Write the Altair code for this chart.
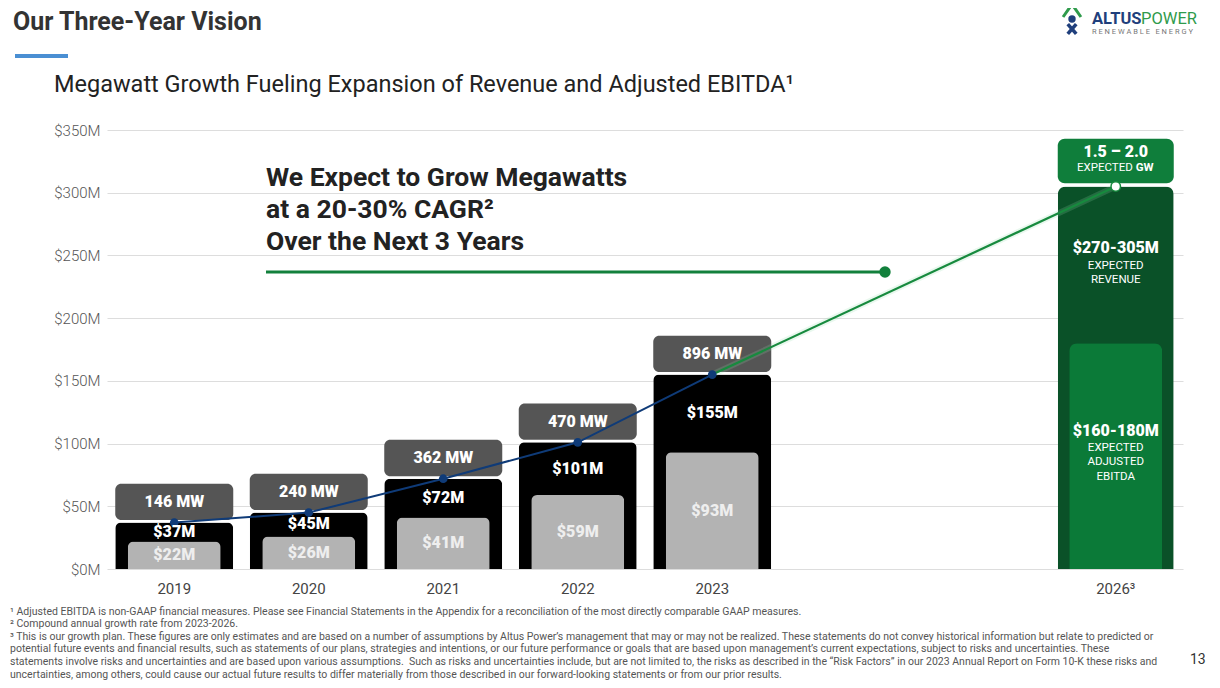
import altair as alt
import pandas as pd

# ---------------- data ----------------
years = ["2019", "2020", "2021", "2022", "2023", "2024", "2025", "2026"]
hist_years = ["2019", "2020", "2021", "2022", "2023"]
revenue = [37, 45, 72, 101, 155]          # $M
adj_ebitda = [22, 26, 41, 59, 93]         # $M
megawatts = [146, 240, 362, 470, 896]     # MW

target_year = "2026"
rev_low, rev_high = 270, 305
ebitda_low, ebitda_high = 160, 180
gw_low, gw_high = 1.5, 2.0

y_ticks = [0, 50, 100, 150, 200, 250, 300, 350]

footnotes = [
    "\u00b9 Adjusted EBITDA is non-GAAP financial measures. Please see Financial Statements in the Appendix for a reconciliation of the most directly comparable GAAP measures.",
    "\u00b2 Compound annual growth rate from 2023-2026.",
    "\u00b3 This is our growth plan. These figures are only estimates and are based on a number of assumptions by Altus Power\u2019s management that may or may not be realized. These statements do not convey historical information but relate to predicted or",
    "potential future events and financial results, such as statements of our plans, strategies and intentions, or our future performance or goals that are based upon management\u2019s current expectations, subject to risks and uncertainties. These",
    "statements involve risks and uncertainties and are based upon various assumptions.\u00a0 Such as risks and uncertainties include, but are not limited to, the risks as described in the \u201cRisk Factors\u201d in our 2023 Annual Report on Form 10-K these risks and",
    "uncertainties, among others, could cause our actual future results to differ materially from those described in our forward-looking statements or from our prior results.",
]

# ---------------- tables ----------------
hist = pd.DataFrame({"year": hist_years, "rev": revenue, "ebitda": adj_ebitda, "mw": megawatts})
hist["rev_label"] = ["$%dM" % v for v in revenue]
hist["ebitda_label"] = ["$%dM" % v for v in adj_ebitda]
hist["mw_label"] = ["%d MW" % v for v in megawatts]
hist["rev_label_y"] = (hist["rev"] + hist["ebitda"]) / 2
hist["ebitda_label_y"] = hist["ebitda"] / 2
hist["box_lo"] = hist["rev"] + 2
hist["box_hi"] = hist["rev"] + 31
hist["box_mid"] = hist["rev"] + 16.5

fut = pd.DataFrame({"year": [target_year], "rev": [rev_high], "ebitda": [ebitda_high],
                    "box_lo": [rev_high + 2.5], "box_hi": [rev_high + 38]})

green_line = pd.DataFrame({"year": [hist_years[-1], target_year], "rev": [revenue[-1], rev_high]})

FONT = "Roboto"
W, H = 1076, 439

XAXIS = alt.Axis(title=None,
                 labelExpr="datum.value == '2024' || datum.value == '2025' ? '' : (datum.value == '2026' ? '2026\u00b3' : datum.value)",
                 labelAngle=0, ticks=False, domain=False, grid=False, labelPadding=12,
                 labelFontSize=15, labelColor="#444444", labelFont=FONT)
XS = alt.Scale(domain=years, paddingInner=0.12, paddingOuter=0.06)
YAXIS = alt.Axis(title=None, values=y_ticks, labelExpr="'$' + datum.value + 'M'", grid=True,
                 gridColor="#dddddd", gridWidth=1, ticks=False, domain=False, labelPadding=7,
                 labelFontSize=15, labelFontWeight=300, labelColor="#555555", labelFont=FONT)
YS = alt.Scale(domain=[0, 350], nice=False)

X = alt.X("year:N", sort=years, scale=XS, axis=XAXIS)


def Yf(field):
    return alt.Y(field, type="quantitative", scale=YS, axis=YAXIS)


# ---------------- bars ----------------
black = alt.Chart(hist).mark_bar(color="#000000", width=118, cornerRadiusTopLeft=6, cornerRadiusTopRight=6).encode(
    x=X, y=Yf("rev"))
gray = alt.Chart(hist).mark_bar(color="#b3b3b3", width=93, cornerRadiusTopLeft=6, cornerRadiusTopRight=6).encode(
    x=X, y=Yf("ebitda"))
mwbox = alt.Chart(hist).mark_bar(color="#555555", width=118, cornerRadius=6).encode(
    x=X, y=Yf("box_lo"), y2="box_hi")

fut_outer = alt.Chart(fut).mark_bar(color="#0a5128", width=116, cornerRadiusTopLeft=8, cornerRadiusTopRight=8).encode(
    x=X, y=Yf("rev"))
fut_inner = alt.Chart(fut).mark_bar(color="#0b7a38", width=93, cornerRadiusTopLeft=8, cornerRadiusTopRight=8).encode(
    x=X, y=Yf("ebitda"))
gwbox = alt.Chart(fut).mark_bar(color="#0f7e3b", width=116, cornerRadius=7).encode(
    x=X, y=Yf("box_lo"), y2="box_hi")

# ---------------- lines ----------------
glow = alt.Chart(green_line).mark_line(color="#8fdaa8", strokeWidth=6, opacity=0.2).encode(x=X, y=Yf("rev"))
gline = alt.Chart(green_line).mark_line(color="#178a3e", strokeWidth=2.2).encode(x=X, y=Yf("rev"))
nline = alt.Chart(hist).mark_line(color="#0f3b78", strokeWidth=2).encode(x=X, y=Yf("rev"))
npts = alt.Chart(hist).mark_point(filled=True, color="#0f3b78", size=75, opacity=1).encode(x=X, y=Yf("rev"))
gpt = alt.Chart(fut).mark_point(filled=True, fill="#ffffff", stroke="#178a3e", strokeWidth=1.5, size=90, opacity=1).encode(
    x=X, y=Yf("rev"))

# ---------------- bar labels ----------------
rev_txt = alt.Chart(hist).mark_text(font=FONT, fontWeight=900, fontSize=16, color="#ffffff", baseline="middle").encode(
    x=X, y=Yf("rev_label_y"), text="rev_label:N")
eb_txt = alt.Chart(hist).mark_text(font=FONT, fontWeight=900, fontSize=16, color="#eeeeee", baseline="middle").encode(
    x=X, y=Yf("ebitda_label_y"), text="ebitda_label:N")
mw_txt = alt.Chart(hist).mark_text(font=FONT, fontWeight=900, fontSize=16, color="#ffffff", baseline="middle").encode(
    x=X, y=Yf("box_mid"), text="mw_label:N")


def fut_text(text, y, size, weight="normal", dx=0, align="center"):
    return alt.Chart(pd.DataFrame({"year": [target_year], "t": [text]})).mark_text(
        font=FONT, fontSize=size, fontWeight=weight, color="#ffffff", align=align, baseline="middle", dx=dx
    ).encode(x=X, y=alt.value(y), text="t:N")


fut_labels = [
    fut_text("%.1f \u2013 %.1f" % (gw_low, gw_high), 22, 16, 900),
    fut_text("EXPECTED", 38, 11.5, "normal", dx=17, align="right"),
    fut_text("GW", 38, 11.5, "bold", dx=20, align="left"),
    fut_text("$%d-%dM" % (rev_low, rev_high), 118, 16, 900),
    fut_text("EXPECTED", 136, 11.5),
    fut_text("REVENUE", 150, 11.5),
    fut_text("$%d-%dM" % (ebitda_low, ebitda_high), 301, 16, 900),
    fut_text("EXPECTED", 318, 11.5),
    fut_text("ADJUSTED", 332, 11.5),
    fut_text("EBITDA", 347, 11.5),
]


# ---------------- free text (pixel positions relative to plot area) ----------------
def ptext(text, x, y, size, color="#222222", weight="normal", align="left", font=FONT):
    return alt.Chart(pd.DataFrame({"t": [text]})).mark_text(
        font=font, fontSize=size, fontWeight=weight, color=color, align=align, baseline="middle"
    ).encode(x=alt.value(x), y=alt.value(y), text="t:N")


def prule(x, x2, y, y2, color, width):
    return alt.Chart(pd.DataFrame({"a": [0]})).mark_rule(color=color, strokeWidth=width).encode(
        x=alt.value(x), x2=alt.value(x2), y=alt.value(y), y2=alt.value(y2))


annot = [
    ptext("We Expect to Grow Megawatts", 159, 48, 26.5, "#222222", "bold"),
    ptext("at a 20-30% CAGR\u00b2", 159, 80, 26.5, "#222222", "bold"),
    ptext("Over the Next 3 Years", 159, 112, 26.5, "#222222", "bold"),
    prule(159, 778, 142, 142, "#12803c", 3),
    alt.Chart(pd.DataFrame({"a": [0]})).mark_point(filled=True, color="#12803c", size=130, opacity=1).encode(
        x=alt.value(778), y=alt.value(142)),
]

NB = "\u00a0"
header = [
    ptext("Our Three-Year Vision", -94, -108, 25, "#333333", "bold"),
    prule(-92, -39, -74, -74, "#4a8fd3", 4),
    ptext("Megawatt Growth Fueling Expansion of Revenue and Adjusted EBITDA\u00b9", -53, -45, 23.5, "#222222"),
    ptext("ALTUS", 985, -111, 16.5, "#1f3f7c", "bold"),
    ptext("POWER", 1034, -111, 16.5, "#2f9b4c", "normal"),
    ptext(NB.join("RENEWABLE") + NB * 3 + NB.join("ENERGY"), 985, -98, 7.5, "#777777"),
    alt.Chart(pd.DataFrame({"a": [0]})).mark_point(
        shape="M -0.8 0 L -0.1 -1 L 0.1 -1 L 0.8 0", filled=False, stroke="#2f9b4c", strokeWidth=3, size=500, opacity=1
    ).encode(x=alt.value(965), y=alt.value(-113)),
    alt.Chart(pd.DataFrame({"a": [0]})).mark_point(filled=True, color="#1f3f7c", size=55, opacity=1).encode(
        x=alt.value(965), y=alt.value(-111)),
    alt.Chart(pd.DataFrame({"a": [0]})).mark_point(
        shape="M -0.6 -0.7 L 0.6 0.7 M 0.6 -0.7 L -0.6 0.7", filled=False, stroke="#1f3f7c", strokeWidth=3.5, size=200, opacity=1
    ).encode(x=alt.value(965), y=alt.value(-101)),
]

foot_y = [482, 494, 507, 519, 532, 545]
foot = [ptext(t, -97, y, 10.5, "#555555") for t, y in zip(footnotes, foot_y)]
foot.append(ptext("13", 1083, 530, 14, "#333333"))

chart = alt.layer(
    black, gray, mwbox, fut_outer, fut_inner, gwbox,
    glow, gline, nline, npts, gpt,
    rev_txt, eb_txt, mw_txt, *fut_labels, *annot, *header, *foot
).properties(
    width=W, height=H,
    autosize=alt.AutoSizeParams(type="none"),
    padding={"left": 99, "top": 122, "right": 29, "bottom": 111},
).configure_view(stroke=None)

chart.save("out.html", embed_options={"renderer": "svg", "actions": False})
